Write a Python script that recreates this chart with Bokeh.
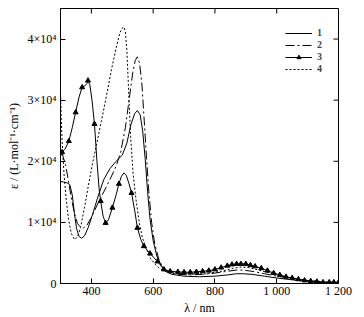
import math
from bokeh.plotting import figure
from bokeh.models import FixedTicker, Legend, LegendItem, Range1d
from bokeh.embed import file_html
from bokeh.resources import INLINE

# ---- data (epsilon in units of 1e4 L/(mol cm)) ----
wl_1 = [300, 310, 320, 330, 338, 345, 352, 360, 368, 378, 390, 405, 420, 440, 460, 480, 500, 515, 528, 540,
        549, 558, 566, 574, 582, 590, 600, 612, 625, 640, 660, 700, 750, 800, 840, 870, 890, 920, 960, 1000,
        1050, 1100, 1150, 1200]
eps_1 = [1.67, 1.66, 1.65, 1.62, 1.45, 1.15, 0.9, 0.77, 0.74, 0.78, 0.92, 1.15, 1.4, 1.7, 1.88, 2.0, 2.1, 2.3, 2.6, 2.78,
         2.83, 2.76, 2.5, 2.05, 1.5, 1.05, 0.7, 0.45, 0.3, 0.2, 0.15, 0.12, 0.11, 0.12, 0.14, 0.16, 0.16, 0.15, 0.12, 0.09,
         0.06, 0.03, 0.02, 0.01]

wl_2 = [300, 308, 316, 325, 335, 345, 355, 365, 375, 385, 400, 420, 440, 460, 480, 495, 510, 522, 534, 542,
        549, 556, 563, 570, 578, 586, 595, 605, 618, 632, 650, 680, 720, 760, 800, 840, 870, 890, 920, 960,
        1000, 1050, 1100, 1150, 1200]
eps_2 = [2.13, 2.08, 1.95, 1.7, 1.4, 1.15, 0.98, 0.92, 0.91, 0.95, 1.08, 1.3, 1.5, 1.7, 1.92, 2.15, 2.55, 3.0, 3.45, 3.65,
         3.71, 3.6, 3.3, 2.75, 2.1, 1.5, 1.0, 0.65, 0.4, 0.25, 0.18, 0.15, 0.14, 0.15, 0.17, 0.2, 0.22, 0.22, 0.2, 0.16,
         0.12, 0.08, 0.05, 0.02, 0.01]

wl_3 = [300, 305, 315, 327, 338, 349, 360, 370, 378, 385, 389, 395, 402, 410, 418, 425, 430, 438, 446, 455,
        468, 480, 489, 497, 505, 513, 522, 530, 540, 549, 560, 570, 590, 614, 635, 655, 680, 700, 720, 740,
        760, 780, 800, 820, 840, 855, 870, 884, 900, 915, 930, 950, 970, 990, 1010, 1030, 1050, 1070, 1090, 1110,
        1130, 1150, 1170, 1185, 1200]
eps_3 = [2.17, 2.15, 2.2, 2.33, 2.55, 2.8, 3.05, 3.21, 3.23, 3.27, 3.32, 3.25, 3.0, 2.61, 2.0, 1.55, 1.35, 1.1, 0.99, 1.04,
         1.24, 1.45, 1.63, 1.75, 1.81, 1.77, 1.63, 1.48, 1.2, 0.91, 0.72, 0.61, 0.49, 0.36, 0.23, 0.2, 0.19, 0.185, 0.185, 0.19,
         0.2, 0.21, 0.23, 0.26, 0.29, 0.31, 0.32, 0.32, 0.32, 0.3, 0.28, 0.25, 0.21, 0.17, 0.14, 0.11, 0.09, 0.07, 0.05, 0.04,
         0.03, 0.02, 0.02, 0.02, 0.02]
marked_3 = [305, 327, 349, 370, 389, 410, 430, 446, 468, 489, 530, 549, 570, 590, 614, 635, 655, 680, 700, 720,
            740, 760, 780, 800, 820, 840, 855, 870, 884, 900, 915, 930, 950, 970, 990, 1010, 1030, 1050, 1070, 1090,
            1110, 1130, 1150, 1170, 1185, 1200]

wl_4 = [300, 303, 307, 312, 318, 326, 335, 345, 355, 365, 378, 392, 405, 418, 432, 448, 465, 480, 492, 500,
        505, 510, 515, 520, 527, 535, 545, 555, 565, 576, 590, 605, 620, 640, 670, 720, 770, 820, 860, 885,
        910, 950, 1000, 1050, 1100, 1150, 1200]
eps_4 = [3.1, 2.6, 2.15, 1.75, 1.4, 1.05, 0.82, 0.72, 0.76, 0.92, 1.25, 1.65, 2.0, 2.3, 2.65, 3.05, 3.5, 3.85, 4.1, 4.18,
         4.2, 4.12, 3.8, 3.22, 2.4, 1.8, 1.35, 1.0, 0.75, 0.6, 0.42, 0.32, 0.25, 0.2, 0.17, 0.15, 0.16, 0.2, 0.25, 0.27,
         0.26, 0.21, 0.14, 0.09, 0.05, 0.03, 0.01]

x_ticks = [400, 600, 800, 1000, 1200]
x_tick_labels = ["400", "600", "800", "1 000", "1 200"]
y_ticks = [0, 10000, 20000, 30000, 40000]
y_tick_labels = ["0", "1×10⁴", "2×10⁴", "3×10⁴", "4×10⁴"]
series_names = ["1", "2", "3", "4"]
x_lim = (300, 1200)
y_lim = (0, 45000)

SCALE = 1e4
FONT = "Liberation Serif"

p = figure(width=364, height=317, output_backend="svg", toolbar_location=None,
           x_range=Range1d(*x_lim), y_range=Range1d(*y_lim),
           min_border_left=60, min_border_right=26, min_border_top=8, min_border_bottom=33)
p.xgrid.visible = False
p.ygrid.visible = False
p.outline_line_color = "black"
p.outline_line_width = 1
p.background_fill_color = "white"
p.border_fill_color = "white"


def style_axis(ax, ticks, labels):
    ax.ticker = FixedTicker(ticks=ticks)
    ax.major_tick_in = 5
    ax.major_tick_out = 0
    ax.minor_tick_in = 0
    ax.minor_tick_out = 0
    ax.axis_line_color = "black"
    ax.major_tick_line_color = "black"
    ax.major_label_text_font = FONT
    ax.major_label_text_color = "black"
    ax.major_label_text_font_size = "12px"
    ax.major_label_overrides = {t: l for t, l in zip(ticks, labels)}
    ax.axis_label_text_font = FONT
    ax.axis_label_text_font_style = "normal"
    ax.axis_label_text_color = "black"
    ax.axis_label_text_font_size = "12px"


style_axis(p.xaxis[0], x_ticks, x_tick_labels)
style_axis(p.yaxis[0], y_ticks, y_tick_labels)
p.xaxis[0].axis_label = "λ / nm"
p.xaxis[0].axis_label_standoff = 0
p.xaxis[0].major_label_standoff = 0
p.yaxis[0].axis_label = "ε / (L·mol⁻¹·cm⁻¹)"
p.yaxis[0].axis_label_standoff = 4
p.yaxis[0].major_label_standoff = 4

# inward ticks on the top and right frame edges (no labels)
p.ray(x=x_ticks, y=[y_lim[1]] * len(x_ticks), length=5, length_units="screen",
      angle=-math.pi / 2, line_color="black", line_width=1)
p.ray(x=[x_lim[1]] * len(y_ticks), y=y_ticks, length=5, length_units="screen",
      angle=math.pi, line_color="black", line_width=1)

r1 = p.line(wl_1, [v * SCALE for v in eps_1], line_color="black", line_width=1)
r2 = p.line(wl_2, [v * SCALE for v in eps_2], line_color="black", line_width=1, line_dash="9 3 2 3")
r3 = p.line(wl_3, [v * SCALE for v in eps_3], line_color="black", line_width=1)
mx = [w for w in wl_3 if w in marked_3]
my = [eps_3[i] * SCALE for i, w in enumerate(wl_3) if w in marked_3]
r3m = p.scatter(mx, my, marker="triangle", size=5, fill_color="black", line_color="black")
r4 = p.line(wl_4, [v * SCALE for v in eps_4], line_color="black", line_width=1, line_dash="2 2")

legend = Legend(items=[LegendItem(label=series_names[0], renderers=[r1]),
                       LegendItem(label=series_names[1], renderers=[r2]),
                       LegendItem(label=series_names[2], renderers=[r3, r3m]),
                       LegendItem(label=series_names[3], renderers=[r4])],
                location=(225, 209), border_line_color=None, background_fill_alpha=0,
                label_text_font=FONT, label_text_font_style="bold", label_text_font_size="10px",
                glyph_width=27, glyph_height=10, label_height=10, spacing=1, padding=0,
                label_standoff=5, margin=0)
p.add_layout(legend)

open("out.html", "w").write(file_html(p, INLINE))
